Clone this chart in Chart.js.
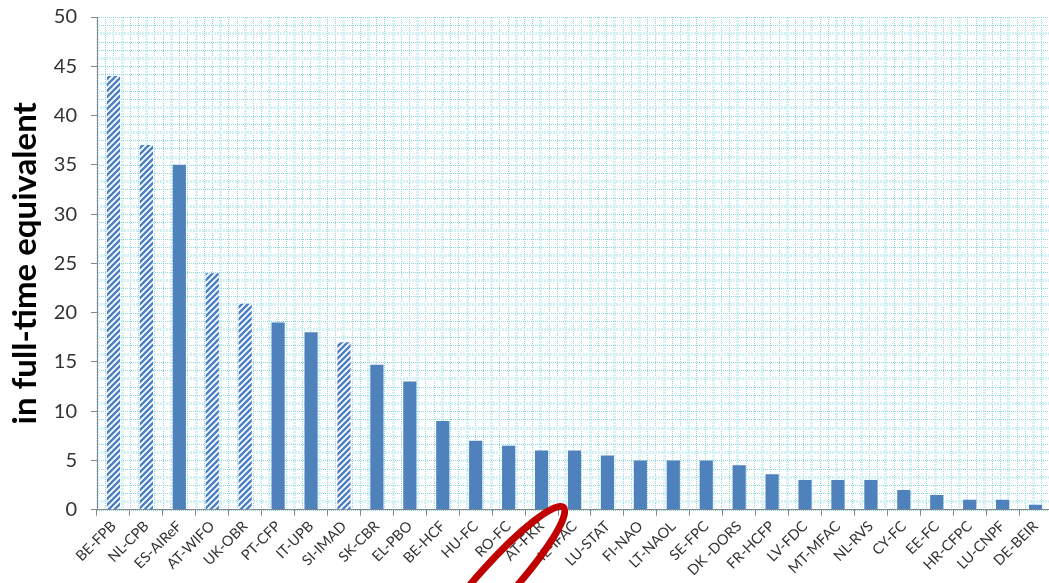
<!DOCTYPE html>
<html>
<head>
<meta charset="utf-8">
<script src="https://cdn.jsdelivr.net/npm/chart.js@4.4.1/dist/chart.umd.min.js"></script>
<style>
html,body{margin:0;padding:0;background:#fff;overflow:hidden;}
#wrap{width:1052px;height:583px;position:relative;}
</style>
</head>
<body>
<div id="wrap"><canvas id="c" width="1052" height="583"></canvas></div>
<script>
const categories = ["BE-FPB","NL-CPB","ES-AIReF","AT-WIFO","UK-OBR","PT-CFP","IT-UPB","SI-IMAD","SK-CBR","EL-PBO","BE-HCF","HU-FC","RO-FC","AT-FKR","IE-IFAC","LU-STAT","FI-NAO","LT-NAOL","SE-FPC","DK -DORS","FR-HCFP","LV-FDC","MT-MFAC","NL-RVS","CY-FC","EE-FC","HR-CFPC","LU-CNPF","DE-BEIR"];
const values = [44,37,35,24,20.9,19,18,17,14.7,13,9,7,6.5,6,6,5.5,5,5,5,4.5,3.6,3,3,3,2,1.5,1,1,0.5];
const hatched = [true,true,false,true,true,false,false,true,false,false,false,false,false,false,false,false,false,false,false,false,false,false,false,false,false,false,false,false,false];
const yTicks = {min:0, max:50, step:5};
const highlighted = "AT-FKR";

const BLUE = '#4f81bd';
function hatchPattern(){
  const s = 6;
  const cv = document.createElement('canvas');
  cv.width = s; cv.height = s;
  const g = cv.getContext('2d');
  g.fillStyle = '#ffffff'; g.fillRect(0,0,s,s);
  g.strokeStyle = '#4a7fc4'; g.lineWidth = 2.4;
  g.beginPath();
  g.moveTo(-1, s+1); g.lineTo(s+1, -1);
  g.moveTo(-2, 2); g.lineTo(2, -2);
  g.moveTo(s-2, s+2); g.lineTo(s+2, s-2);
  g.stroke();
  return g.createPattern(cv, 'repeat');
}
const ctx = document.getElementById('c').getContext('2d');
const pat = hatchPattern();
const colors = hatched.map(h => h ? pat : BLUE);

const gridBg = {
  id:'gridBg',
  beforeDraw(chart){
    const {ctx, chartArea:a} = chart;
    ctx.save();
    ctx.fillStyle = '#ffffff';
    ctx.fillRect(a.left, a.top, a.right-a.left, a.bottom-a.top);
    const step = (a.bottom - a.top) / 60;
    let i = 0;
    for (let x = a.left; x <= a.right + 0.5; x += step, i++) {
      const xx = Math.round(x) + 0.5;
      ctx.beginPath();
      if (i % 3 === 0) { ctx.setLineDash([2,1]); ctx.strokeStyle = '#d3f1f4'; ctx.lineWidth = 3; }
      else { ctx.setLineDash([1,1]); ctx.strokeStyle = '#8ad9e0'; ctx.lineWidth = 1; }
      ctx.moveTo(xx, a.top); ctx.lineTo(xx, a.bottom); ctx.stroke();
    }
    i = 0;
    for (let y = a.top; y <= a.bottom + 0.5; y += step, i++) {
      const yy = Math.round(y) + 0.5;
      ctx.beginPath();
      if (i % 3 === 2) { ctx.setLineDash([2,1]); ctx.strokeStyle = '#d3f1f4'; ctx.lineWidth = 3; }
      else { ctx.setLineDash([1,1]); ctx.strokeStyle = '#8ad9e0'; ctx.lineWidth = 1; }
      ctx.moveTo(a.left, yy); ctx.lineTo(a.right, yy); ctx.stroke();
    }
    ctx.restore();
  }
};

const ellipsePlugin = {
  id:'ellipse',
  afterDraw(chart){
    const {ctx, chartArea:a, scales} = chart;
    const idx = categories.indexOf(highlighted);
    const x = scales.x.getPixelForValue(idx);
    ctx.save();
    ctx.beginPath();
    ctx.ellipse(x - 45, a.bottom + 72, 100, 18, -48*Math.PI/180, 0, Math.PI*2);
    ctx.strokeStyle = '#c00000';
    ctx.lineWidth = 7;
    ctx.stroke();
    ctx.restore();
  }
};

new Chart(ctx, {
  type:'bar',
  data:{
    labels: categories,
    datasets:[{
      data: values,
      backgroundColor: colors,
      borderWidth: 0,
      barPercentage: 0.4,
      categoryPercentage: 1.0
    }]
  },
  options:{
    responsive:false,
    animation:false,
    layout:{padding:{left:6, top:17, right:0, bottom:2}},
    plugins:{legend:{display:false}, tooltip:{enabled:false}},
    scales:{
      x:{
        afterFit(s){ s.paddingLeft = 0; s.paddingRight = 0; },
        grid:{drawOnChartArea:false, drawTicks:true, tickLength:6, color:'#868686', offset:true},
        border:{color:'#868686', width:1},
        ticks:{color:'#333333', font:{family:'Lato', size:14.5}, minRotation:45, maxRotation:45, padding:2, autoSkip:false}
      },
      y:{
        afterFit(s){ s.paddingTop = 0; s.paddingBottom = 0; s.width = 91; },
        min:yTicks.min, max:yTicks.max,
        grid:{drawOnChartArea:false, drawTicks:true, tickLength:6, color:'#868686'},
        border:{color:'#868686', width:1},
        ticks:{stepSize:yTicks.step, color:'#333333', font:{family:'Lato', size:20}, padding:14},
        title:{display:true, text:'in full-time equivalent', color:'#000000', font:{family:'Lato', size:33, weight:'bold'}, padding:{top:0, bottom:8}}
      }
    }
  },
  plugins:[gridBg, ellipsePlugin]
});
</script>
</body>
</html>
